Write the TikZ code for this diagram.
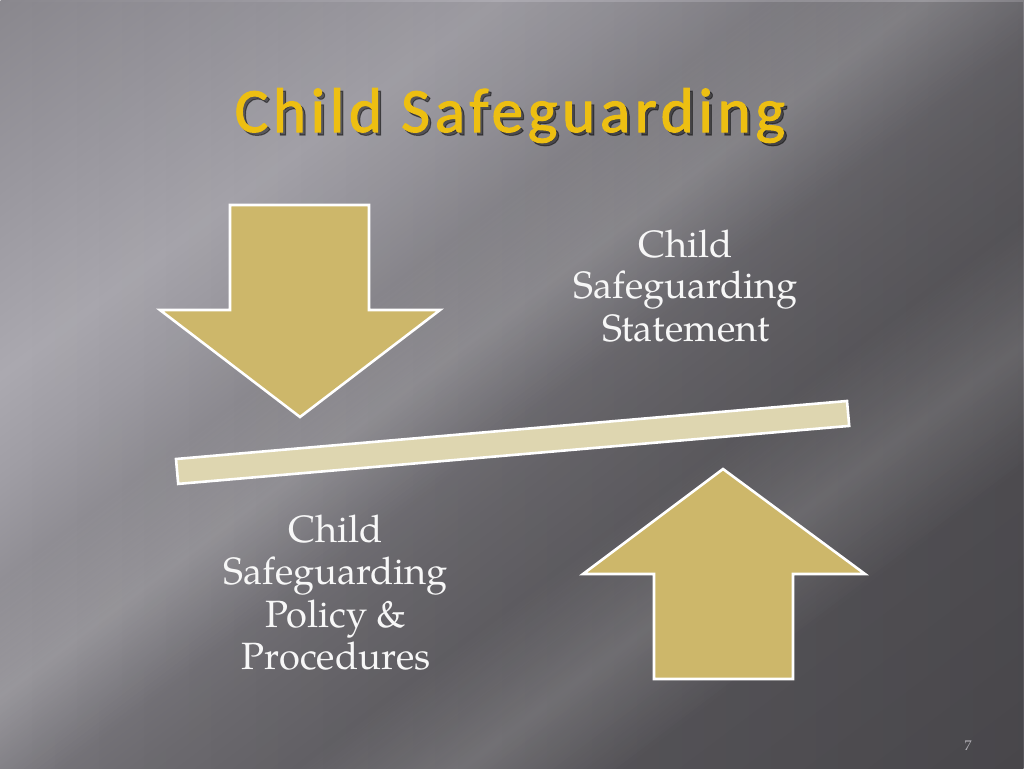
\documentclass[tikz,border=0pt]{standalone}
\usepackage{fontspec}
\usetikzlibrary{fadings}
\newfontfamily\titlefont{Carlito}[LetterSpace=7.5, FakeBold=1.6]
\newfontfamily\bodyfont{TeX Gyre Pagella}

\definecolor{arrowfill}{HTML}{CDB76A}
\definecolor{barfill}{HTML}{DED6B0}
\definecolor{titlegold}{HTML}{EDBF12}
\definecolor{pagenum}{HTML}{B4B2B8}
\definecolor{bodytext}{HTML}{F7F7F7}

\definecolor{c1}{HTML}{8A888E}
\definecolor{c2}{HTML}{9A989F}
\definecolor{c3}{HTML}{ABA9B0}
\definecolor{c4}{HTML}{A09EA5}
\definecolor{c5}{HTML}{8E8C92}
\definecolor{c6}{HTML}{7C7A80}
\definecolor{c7}{HTML}{6F6D72}
\definecolor{c8}{HTML}{626065}
\definecolor{c9}{HTML}{58565B}

\pgfdeclareverticalshading{bgsh}{100bp}{color(0bp)=(c9); color(25bp)=(c9); color(40.4bp)=(c8); color(46.5bp)=(c7); color(50.6bp)=(c6); color(55.5bp)=(c5); color(59.5bp)=(c4); color(62.8bp)=(c3); color(68.9bp)=(c2); color(75bp)=(c1); color(100bp)=(c1)}

\tikzfading[name=rdark, left color=transparent!100, right color=transparent!82]
\tikzfading[name=streak, top color=transparent!100, bottom color=transparent!100, middle color=transparent!82]

\tikzset{
  shapeline/.style={draw=white, line width=2.6pt, line join=miter},
  arrowshape/.style={shapeline, fill=arrowfill},
  barshape/.style={shapeline, fill=barfill},
  bodylabel/.style={anchor=base, text=bodytext, inner sep=0pt, font=\bodyfont\fontsize{38}{42}\selectfont},
  titlelabel/.style={anchor=base, inner sep=0pt, font=\titlefont\fontsize{63}{72}\selectfont},
}

\begin{document}
\begin{tikzpicture}[x=1pt, y=-1pt]
\useasboundingbox (0,0) rectangle (1024,768);
% background
\begin{scope}
  \clip (0,0) rectangle (1024,768);
  \begin{scope}[transform canvas={rotate around={37:(512,384)}}]
    \shade[shading=bgsh] (-188,-230) rectangle (1212,999);
    \fill[white, path fading=streak] (-188,230) rectangle (1212,420);
    \fill[white, path fading=streak] (-188,560) rectangle (1212,760);
  \end{scope}
  \fill[black, path fading=rdark] (0,0) rectangle (1024,768);
\end{scope}

% title with drop shadow
\node[titlelabel, text=black, opacity=0.45] (titleshadow) at (513,135) {Child Safeguarding};
\node[titlelabel, text=titlegold] (title) at (510,132) {Child Safeguarding};

% down arrow
\draw[arrowshape] (230,205) -- (369,205) -- (369,310) -- (440,310) -- (300,417) -- (160,310) -- (230,310) -- cycle;
% bar
\draw[barshape] (176,459) -- (847,401) -- (849.2,425.9) -- (178.2,483.9) -- cycle;
% up arrow
\draw[arrowshape] (723,469) -- (865,574) -- (793,574) -- (793,679) -- (654,679) -- (654,574) -- (583,574) -- cycle;

% right text
\node[bodylabel] (r1) at (686,257) {Child};
\node[bodylabel] (r2) at (686,298) {Safeguarding};
\node[bodylabel] (r3) at (686,341) {Statement};

% left text
\node[bodylabel] (l1) at (336,542) {Child};
\node[bodylabel] (l2) at (336,584) {Safeguarding};
\node[bodylabel] (l3) at (336,627) {Policy \&};
\node[bodylabel] (l4) at (336,669) {Procedures};

% page number
\node[anchor=base, text=pagenum, inner sep=0pt, font=\bodyfont\fontsize{14}{16}\selectfont] (page) at (968,750) {7};
\end{tikzpicture}
\end{document}
